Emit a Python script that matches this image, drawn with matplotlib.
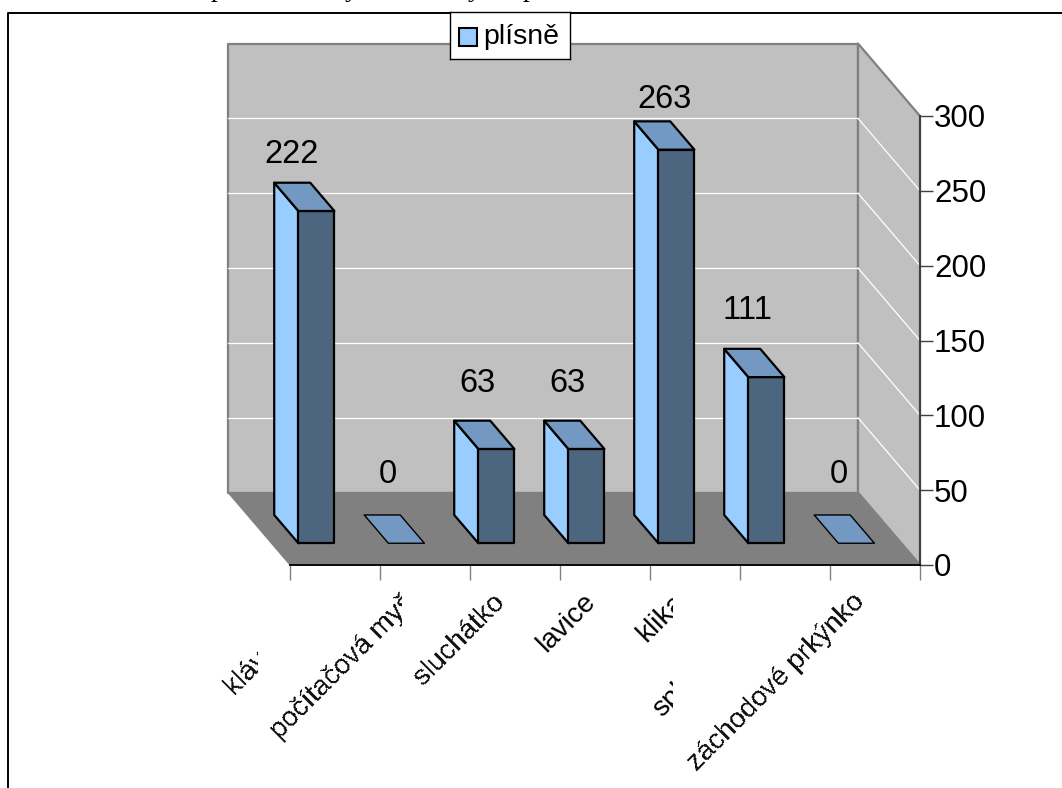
import matplotlib
matplotlib.use("Agg")
import matplotlib.pyplot as plt
from matplotlib.patches import Polygon, Rectangle
from matplotlib.transforms import IdentityTransform

plt.rcParams["font.family"] = ["Liberation Sans", "DejaVu Sans"]

categories = ["klávesnice", "počítačová myš", "sluchátko", "lavice", "klika", "splachovadlo", "záchodové prkýnko"]
values = [222, 0, 63, 63, 263, 111, 0]
y_ticks = [0, 50, 100, 150, 200, 250, 300]
series_name = "plísně"

W, H = 1062, 788
fig = plt.figure(figsize=(W / 100, H / 100), dpi=100)

# front plane of the chart box, in pixels
left, right, top, bottom = 290, 920, 116, 565
ax = fig.add_axes([left / W, 1 - bottom / H, (right - left) / W, (bottom - top) / H])
n = len(categories)
ymax = y_ticks[-1]
ax.set_xlim(0, n)
ax.set_ylim(0, ymax)
ax.patch.set_visible(False)
for name in ["top", "left"]:
    ax.spines[name].set_visible(False)
ax.spines["bottom"].set_linewidth(1.3)
ax.spines["bottom"].set_zorder(6)
ax.spines["right"].set_color("#404040")
ax.spines["right"].set_linewidth(1.5)

# depth shear: how far the back wall sits from the front plane
dx = -62 / ((right - left) / n)
dy = 72.5 / ((bottom - top) / ymax)


def proj(x, y, d):
    return (x + dx * d, y + dy * d)


def face(points, color, z, edge="none", lw=0):
    ax.add_patch(Polygon([proj(*p) for p in points], closed=True, facecolor=color,
                         edgecolor=edge, linewidth=lw, zorder=z, clip_on=False, joinstyle="round"))


# walls and floor
face([(0, 0, 1), (n, 0, 1), (n, ymax, 1), (0, ymax, 1)], "#C0C0C0", 1, "#808080", 1.6)
face([(n, 0, 1), (n, 0, 0), (n, ymax, 0), (n, ymax, 1)], "#C0C0C0", 1, "#808080", 1.6)
face([(0, 0, 0), (n, 0, 0), (n, 0, 1), (0, 0, 1)], "#808080", 2, "#808080", 0.8)

# gridlines run along the back wall and down the side wall
for v in y_ticks[1:-1]:
    bx0, by0 = proj(0, v, 1)
    bx1, by1 = proj(n, v, 1)
    fx, fy = proj(n, v, 0)
    ax.plot([bx0, bx1], [by0, by1], color="white", lw=0.9, zorder=1.5, clip_on=False)
    ax.plot([bx1, fx], [by1, fy], color="white", lw=0.9, zorder=1.5, clip_on=False)

# value labels float above the bars, these are pixel nudges from the bar top
label_gap = [28, 40, 37, 37, 22, 38, 40]
label_shift = [-12, -6, -6, -6, 1, -6, -5]

# bars sit in the middle of the depth, 36 px wide out of 90
bar_w = 0.4
d0, d1 = 0.3, 0.69
for i, v in enumerate(values):
    c = i + 0.5
    x0, x1 = c - bar_w / 2, c + bar_w / 2
    if v > 0:
        face([(x0, 0, d0), (x0, 0, d1), (x0, v, d1), (x0, v, d0)], "#99CCFF", 3, "black", 1.6)
        face([(x0, 0, d0), (x1, 0, d0), (x1, v, d0), (x0, v, d0)], "#4D6680", 3, "black", 1.6)
    face([(x0, v, d0), (x1, v, d0), (x1, v, d1), (x0, v, d1)], "#7399C2", 3.1, "black", 1.6 if v > 0 else 1.0)
    ax.annotate(str(v), xy=proj(c, v, d1), xytext=(label_shift[i] * 0.72 + 8, label_gap[i] * 0.72),
                textcoords="offset points", ha="center", va="center", fontsize=23.5,
                color="black", zorder=5, annotation_clip=False)

# axes ticks
ax.yaxis.tick_right()
ax.set_yticks(y_ticks)
ax.tick_params(axis="y", length=9, width=1.0, color="#404040", labelsize=22.5, pad=1)
ax.set_xticks(range(n + 1))
ax.set_xticklabels([])
ax.tick_params(axis="x", length=11, width=1.0, color="#808080")

# category labels are cut off where the drawing clips them
label_clip = [(0, 258), (0, 402), (0, 1062), (0, 1062), (0, 673), (0, 673), (0, 1062)]
rough = [True, True, True, False, False, False, True]
for i, name in enumerate(categories):
    t = ax.annotate(name, xy=(i + 0.5, 0), xycoords="data", xytext=(-10, -24), textcoords="offset points",
                    rotation=45, rotation_mode="anchor", ha="right", va="center",
                    fontsize=20, color="#111111" if rough[i] else "black", annotation_clip=False, zorder=5)
    x0, x1 = label_clip[i]
    t.set_clip_on(True)
    t.set_clip_path(Rectangle((x0, 0), x1 - x0, H, transform=IdentityTransform()))
    if rough[i]:
        t.set_antialiased(False)

# legend box on top of the wall
legend_ax = fig.add_axes([450 / W, 1 - 59 / H, 120 / W, 47 / H], zorder=10)
legend_ax.set_xlim(450, 570)
legend_ax.set_ylim(59, 12)
legend_ax.set_xticks([])
legend_ax.set_yticks([])
for s in legend_ax.spines.values():
    s.set_linewidth(1.0)
    s.set_color("black")
legend_ax.add_patch(Rectangle((459, 28), 18, 18, facecolor="#99CCFF", edgecolor="black", linewidth=1.5))
legend_ax.text(483, 37, series_name, fontsize=20.5, va="center", ha="left")

# outer frame, open on the right and at the bottom
fig.add_artist(plt.Line2D([7.5 / W, 7.5 / W, 1], [0, 1 - 12.5 / H, 1 - 12.5 / H], color="black", lw=1.4))

# caption of the page above, only the descenders reach the top edge
for x, ch in [(218, "p"), (352, "y"), (475, "y"), (530, "p")]:
    fig.text(x / W, 1 + 4 / H, ch, family="Liberation Serif", fontsize=20, ha="center", va="baseline")

fig.savefig("out.png", dpi=100)
